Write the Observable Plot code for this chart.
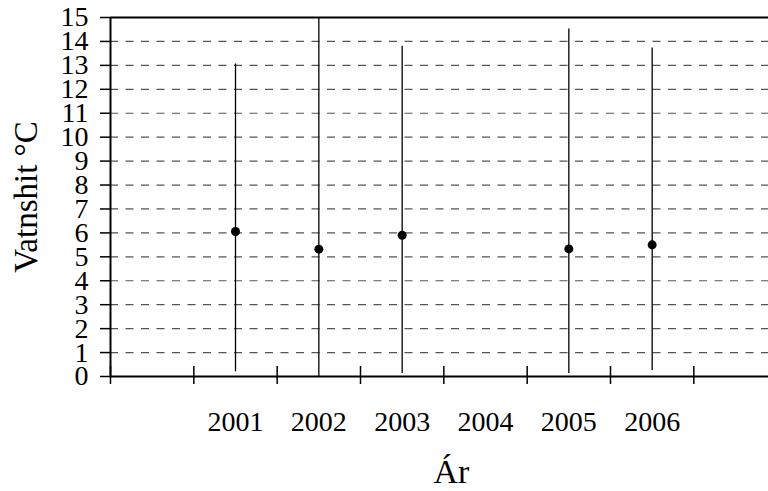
<!DOCTYPE html>
<html><head><meta charset="utf-8">
<script src="https://cdn.jsdelivr.net/npm/d3@7"></script>
<script src="https://cdn.jsdelivr.net/npm/@observablehq/plot@0.6"></script>
<style>body{margin:0;overflow:hidden;background:#fff}</style>
</head><body><div id="chart"></div>
<script>
// Data
const years = [2001, 2002, 2003, 2005, 2006];
const meanTemp = [6.06, 5.32, 5.9, 5.33, 5.5];
const minTemp = [0.2, 0.0, 0.13, 0.13, 0.25];
const maxTemp = [13.06, 15.0, 13.8, 14.52, 13.73];
const yearLabels = [2001, 2002, 2003, 2004, 2005, 2006];
const yTicks = [0, 1, 2, 3, 4, 5, 6, 7, 8, 9, 10, 11, 12, 13, 14, 15];
const gridLines = [1, 2, 3, 4, 5, 6, 7, 8, 9, 10, 11, 12, 13, 14];
const xTickMarks = [1999.5, 2000.5, 2001.5, 2002.5, 2003.5, 2004.5, 2005.5, 2006.5, 2007.5];
const xDomain = [1999.5, 2008.5];
const yDomain = [0, 15];
const xLabel = "Ár";
const yLabel = "Vatnshit °C";

const data = years.map((y, i) => ({year: y, mean: meanTemp[i], min: minTemp[i], max: maxTemp[i]}));
const font = "'Liberation Serif', 'Times New Roman', serif";

const chart = Plot.plot({
  width: 768,
  height: 491,
  marginLeft: 110,
  marginRight: 0,
  marginTop: 17,
  marginBottom: 115,
  style: {fontFamily: font, fontSize: "28px", color: "black", background: "white"},
  x: {domain: xDomain, range: [110, 860]},
  y: {domain: yDomain},
  marks: [
    Plot.ruleY(gridLines, {stroke: "#555", strokeWidth: 1.2, strokeDasharray: "8,7.5"}),
    Plot.ruleX(data, {x: "year", y1: "min", y2: "max", stroke: "black", strokeWidth: 1.3}),
    Plot.dot(data, {x: "year", y: "mean", r: 4.5, fill: "black", stroke: null}),
    Plot.ruleY([yDomain[0], yDomain[1]], {stroke: "black", strokeWidth: 2}),
    Plot.ruleX([xDomain[0]], {stroke: "black", strokeWidth: 2}),
    Plot.axisY({ticks: yTicks, tickSize: 10, tickPadding: 12, label: null, fontSize: 28, strokeWidth: 1.5, tickFormat: d => String(d)}),
    Plot.axisX({ticks: xTickMarks, tickSize: 18, dy: -10, tickFormat: () => "", label: null, strokeWidth: 1.5}),
    Plot.axisX({ticks: yearLabels, tickSize: 0, tickPadding: 35, label: null, fontSize: 28, tickFormat: d => String(d)}),
    Plot.text([xLabel], {frameAnchor: "bottom", dx: 12, dy: 106, fontSize: 34, textAnchor: "middle"}),
    Plot.text([yLabel], {frameAnchor: "left", dx: -84, rotate: -90, fontSize: 33, textAnchor: "middle"})
  ]
});
document.getElementById("chart").appendChild(chart);
</script>
</body></html>
